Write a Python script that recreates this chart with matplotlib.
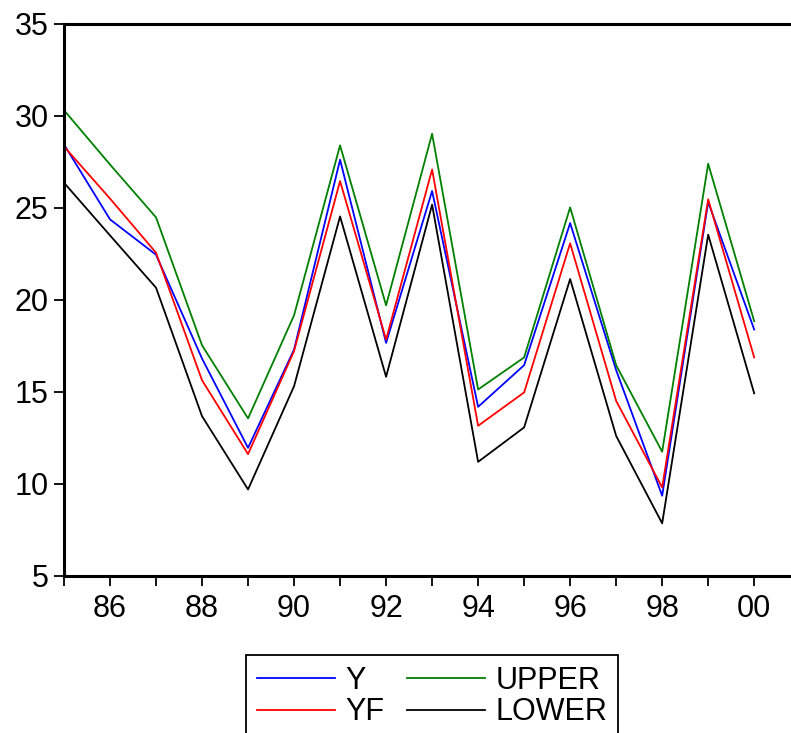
import matplotlib
matplotlib.use('Agg')
import matplotlib.pyplot as plt
from matplotlib.ticker import MultipleLocator, FuncFormatter

plt.rcParams['font.family'] = ['Liberation Sans', 'DejaVu Sans']

years = list(range(1985, 2001))
y = [28.44, 24.37, 22.45, 16.81, 11.96, 17.30, 27.61, 17.66,
     25.91, 14.19, 16.45, 24.17, 16.18, 9.36, 25.31, 18.39]
yf = [28.33, 25.50, 22.56, 15.63, 11.62, 17.22, 26.45, 17.84,
      27.08, 13.16, 14.97, 23.07, 14.51, 9.81, 25.46, 16.87]
upper = [30.30, 27.35, 24.48, 17.53, 13.56, 19.16, 28.39, 19.70,
         29.02, 15.13, 16.87, 25.02, 16.45, 11.75, 27.39, 18.84]
lower = [26.36, 23.50, 20.66, 13.68, 9.70, 15.31, 24.53, 15.82,
         25.17, 11.20, 13.07, 21.13, 12.61, 7.86, 23.54, 14.92]

fig = plt.figure(figsize=(7.91, 7.33), dpi=100)
ax = fig.add_axes([0.0809, 0.2142, 0.9191, 0.7535])

ax.plot(years, y, color='blue', lw=1.3, label='Y')
ax.plot(years, yf, color='red', lw=1.3, label='YF')
ax.plot(years, upper, color='green', lw=1.3, label='UPPER')
ax.plot(years, lower, color='black', lw=1.3, label='LOWER')

ax.set_xlim(1985, 2000.8)
ax.set_ylim(5, 35)
ax.yaxis.set_major_locator(MultipleLocator(5))
ax.xaxis.set_major_locator(MultipleLocator(2))
ax.xaxis.set_minor_locator(MultipleLocator(1))
ax.xaxis.set_major_formatter(FuncFormatter(lambda v, p: '%02d' % (int(round(v)) % 100)))

for side in ('left', 'bottom', 'top'):
    ax.spines[side].set_linewidth(2.2)
ax.spines['right'].set_visible(False)

ax.tick_params(axis='both', which='both', direction='out', length=7, width=1.3,
               labelsize=22)
ax.tick_params(axis='y', pad=4)
ax.tick_params(axis='x', which='both', pad=6)
ax.tick_params(axis='x', which='minor', labelbottom=False)

leg = fig.legend(loc='upper left', bbox_to_anchor=(0.311, 0.1064), ncol=2,
                 fontsize=22, frameon=True, fancybox=False, edgecolor='black',
                 framealpha=1, handlelength=2.55, borderpad=0.35, labelspacing=0.05,
                 columnspacing=0.75, handletextpad=0.35, borderaxespad=0)
leg.get_frame().set_linewidth(1.3)

fig.savefig('out.png', dpi=100)
